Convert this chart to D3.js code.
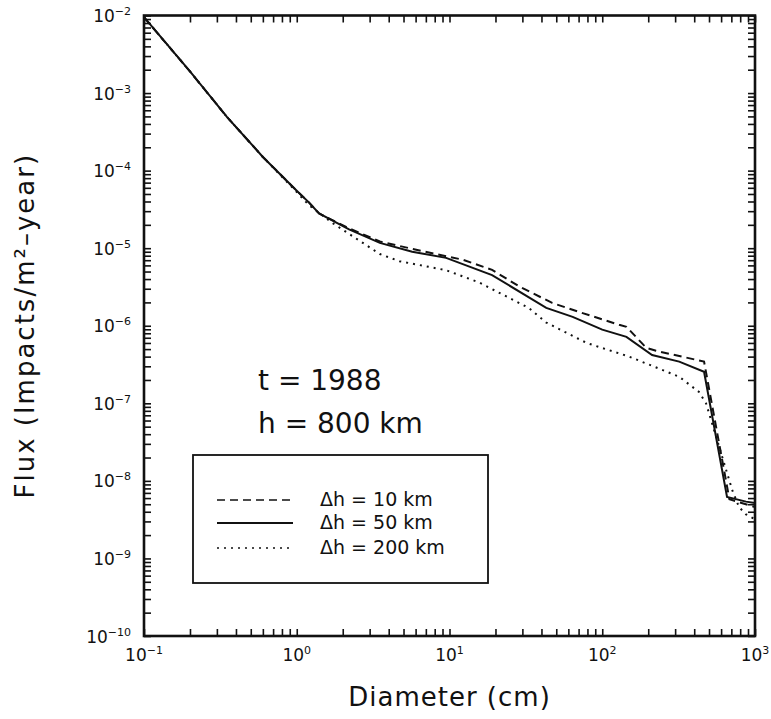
<!DOCTYPE html>
<html>
<head>
<meta charset="utf-8">
<script src="https://cdn.jsdelivr.net/npm/d3@7"></script>
<style>
  body { margin: 0; background: #fff; }
  text { font-family: "DejaVu Sans", sans-serif; fill: #111; }
</style>
</head>
<body>
<svg id="chart"></svg>
<script>
const width = 771;
const height = 719;

// diameters (cm) and flux (impacts/m2-year) for each shell thickness
const diam10 = [0.1, 0.2, 0.35, 0.6, 1, 1.2, 1.4, 2.2, 3.5, 5.7, 12.2, 19, 28.7, 47, 71, 129, 144, 194, 225, 464, 680, 1000];
const flux10 = [9.5e-3, 1.9e-3, 4.9e-4, 1.5e-4, 5.5e-5, 3.9e-5, 2.8e-5, 1.8e-5, 1.22e-5, 9.8e-6, 7.1e-6, 5.25e-6, 3.2e-6, 1.97e-6, 1.5e-6, 1.03e-6, 9.7e-7, 5.2e-7, 4.75e-7, 3.45e-7, 5.8e-9, 4.6e-9];

const diam50 = [0.1, 0.2, 0.35, 0.6, 1, 1.2, 1.4, 2.2, 3.5, 5.7, 9.5, 19, 43, 64, 100, 144, 212, 319, 464, 656, 873, 1000];
const flux50 = [9.5e-3, 1.9e-3, 4.9e-4, 1.5e-4, 5.5e-5, 3.9e-5, 2.8e-5, 1.75e-5, 1.17e-5, 9.0e-6, 7.5e-6, 4.5e-6, 1.7e-6, 1.3e-6, 8.9e-7, 7.2e-7, 4.2e-7, 3.45e-7, 2.55e-7, 6.2e-9, 5.4e-9, 5.2e-9];

const diam200 = [0.1, 0.2, 0.35, 0.6, 1, 1.2, 1.72, 3.5, 4.7, 9.5, 15.7, 33, 43, 79, 150, 319, 430, 478, 708, 786, 873, 1000];
const flux200 = [9.5e-3, 1.9e-3, 4.9e-4, 1.5e-4, 5.3e-5, 3.6e-5, 2.1e-5, 8.4e-6, 6.8e-6, 5.2e-6, 3.6e-6, 1.7e-6, 1.1e-6, 6.0e-7, 4.0e-7, 2.2e-7, 1.4e-7, 1.0e-7, 7.7e-9, 4.6e-9, 3.7e-9, 3.2e-9];

const legendLabels = ['\u0394h = 10 km', '\u0394h = 50 km', '\u0394h = 200 km'];
const xExponents = [-1, 0, 1, 2, 3];
const yExponents = [-2, -3, -4, -5, -6, -7, -8, -9, -10];

const svg = d3.select('#chart')
  .attr('width', width)
  .attr('height', height);

const mLeft = 144, mRight = 755, mTop = 15.5, mBottom = 636;

const xScale = d3.scaleLog().domain([0.1, 1000]).range([mLeft, mRight]);
const yScale = d3.scaleLog().domain([1e-10, 1e-2]).range([mBottom, mTop]);

// minor + major tick positions (1..9 per decade)
const xTicks = [];
for (let e = -1; e < 3; e++) for (let k = 1; k < 10; k++) xTicks.push(k * Math.pow(10, e));
xTicks.push(1000);
const yTicks = [];
for (let e = -10; e < -2; e++) for (let k = 1; k < 10; k++) yTicks.push(k * Math.pow(10, e));
yTicks.push(1e-2);

// ticks point into the plot on all four sides
const axes = [
  [d3.axisBottom(xScale).tickValues(xTicks), `translate(0,${mBottom})`],
  [d3.axisTop(xScale).tickValues(xTicks), `translate(0,${mTop})`],
  [d3.axisLeft(yScale).tickValues(yTicks), `translate(${mLeft},0)`],
  [d3.axisRight(yScale).tickValues(yTicks), `translate(${mRight},0)`]
];
axes.forEach(([ax, tr]) => {
  const g = svg.append('g')
    .attr('transform', tr)
    .call(ax.tickSizeInner(-7).tickSizeOuter(0).tickFormat(''));
  g.select('.domain').remove();
  g.selectAll('.tick line').attr('stroke', '#111').attr('stroke-width', 1.6);
});

// frame
svg.append('rect')
  .attr('x', mLeft)
  .attr('y', mTop)
  .attr('width', mRight - mLeft)
  .attr('height', mBottom - mTop)
  .attr('fill', 'none')
  .attr('stroke', '#111')
  .attr('stroke-width', 2.6);

// x tick labels 10^n
svg.selectAll('.xlab')
  .data(xExponents)
  .enter()
  .append('text')
  .attr('class', 'xlab')
  .attr('x', d => xScale(Math.pow(10, d)))
  .attr('y', 661)
  .attr('text-anchor', 'middle')
  .style('font-size', '17px')
  .each(function (d) {
    const t = d3.select(this);
    t.append('tspan').text('10');
    t.append('tspan').attr('dy', -7).style('font-size', '11px').text(d < 0 ? '\u2212' + (-d) : d);
  });

// y tick labels 10^n
svg.selectAll('.ylab')
  .data(yExponents)
  .enter()
  .append('text')
  .attr('class', 'ylab')
  .attr('x', 131)
  .attr('y', d => yScale(Math.pow(10, d)) + 6.5)
  .attr('text-anchor', 'end')
  .style('font-size', '17px')
  .each(function (d) {
    const t = d3.select(this);
    t.append('tspan').text('10');
    t.append('tspan').attr('dy', -7).style('font-size', '11px').text('\u2212' + (-d));
  });

// axis titles
svg.append('text')
  .attr('x', (mLeft + mRight) / 2)
  .attr('y', 706)
  .attr('text-anchor', 'middle')
  .style('font-size', '26px')
  .style('letter-spacing', '1px')
  .text('Diameter (cm)');

svg.append('text')
  .attr('transform', `translate(34, ${(mTop + mBottom) / 2}) rotate(-90)`)
  .attr('text-anchor', 'middle')
  .style('font-size', '26px')
  .style('letter-spacing', '2px')
  .text('Flux (Impacts/m\u00b2\u2013year)');

// curves
const line = d3.line()
  .x(d => xScale(d[0]))
  .y(d => yScale(d[1]));

const series = [
  { x: diam10, y: flux10, dash: '8,5', w: 2 },
  { x: diam50, y: flux50, dash: null, w: 2 },
  { x: diam200, y: flux200, dash: '2,5', w: 2 }
];

series.forEach(s => {
  svg.append('path')
    .datum(s.x.map((v, i) => [v, s.y[i]]))
    .attr('d', line)
    .attr('fill', 'none')
    .attr('stroke', '#111')
    .attr('stroke-width', s.w)
    .attr('stroke-dasharray', s.dash);
});

// annotations
svg.append('text')
  .attr('x', 258)
  .attr('y', 390)
  .style('font-size', '28px')
  .text('t = 1988');

svg.append('text')
  .attr('x', 258)
  .attr('y', 433)
  .style('font-size', '28px')
  .text('h = 800 km');

// legend
svg.append('rect')
  .attr('x', 193)
  .attr('y', 455)
  .attr('width', 295)
  .attr('height', 128)
  .attr('fill', 'none')
  .attr('stroke', '#111')
  .attr('stroke-width', 1.8);

const legY = [500, 523, 548];
series.forEach((s, i) => {
  svg.append('line')
    .attr('x1', 217)
    .attr('x2', 293)
    .attr('y1', legY[i])
    .attr('y2', legY[i])
    .attr('stroke', '#111')
    .attr('stroke-width', i === 1 ? 2 : 1.6)
    .attr('stroke-dasharray', s.dash);
  svg.append('text')
    .attr('x', 320)
    .attr('y', legY[i] + 6)
    .style('font-size', '19px')
    .text(legendLabels[i]);
});
</script>
</body>
</html>
